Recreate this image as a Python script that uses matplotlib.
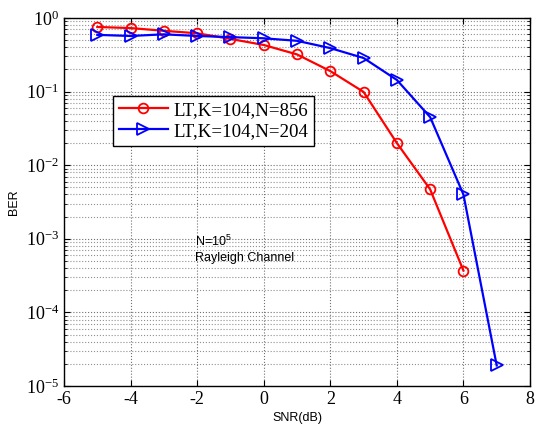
import math
import matplotlib
matplotlib.use("Agg")
import matplotlib.pyplot as plt
from matplotlib.ticker import LogLocator, NullFormatter, FuncFormatter

snr_red = [-5, -4, -3, -2, -1, 0, 1, 2, 3, 4, 5, 6]
ber_red = [0.755, 0.73, 0.67, 0.62, 0.52, 0.43, 0.32, 0.19, 0.099, 0.02, 0.0047, 0.00037]
snr_blue = [-5, -4, -3, -2, -1, 0, 1, 2, 3, 4, 5, 6, 7]
ber_blue = [0.59, 0.57, 0.6, 0.57, 0.55, 0.53, 0.49, 0.39, 0.286, 0.144, 0.045, 0.0040, 1.9e-5]
label_red = "LT,K=104,N=856"
label_blue = "LT,K=104,N=204"

fig = plt.figure(figsize=(5.36, 4.30), dpi=100)
ax = fig.add_axes([64/536, 1-386/430, (530-64)/536, (386-18)/430])

ax.semilogy(snr_red, ber_red, color='#ff0000', marker='o', markersize=7, markerfacecolor='none',
            markeredgewidth=1.3, linewidth=1.6, label=label_red)
ax.semilogy(snr_blue, ber_blue, color='#0000ff', marker='>', markersize=8, markerfacecolor='none',
            markeredgewidth=1.3, linewidth=1.6, label=label_blue)

ax.set_xlim(-6, 8)
ax.set_ylim(1e-5, 1)
ax.set_xticks(range(-6, 9, 2))
ax.xaxis.set_major_formatter(FuncFormatter(lambda v, p: f"{int(v)}"))
ax.yaxis.set_major_locator(LogLocator(base=10, numticks=10))
ax.yaxis.set_minor_locator(LogLocator(base=10, subs=range(2, 10), numticks=20))
ax.yaxis.set_minor_formatter(NullFormatter())
ax.yaxis.set_major_formatter(FuncFormatter(lambda v, p: r"$\mathregular{10^{%d}}$" % round(math.log10(v))))

serif = 'Liberation Serif'
ax.tick_params(axis='both', which='both', direction='in', top=True, right=True, labelsize=13)
ax.tick_params(which='major', length=4)
ax.tick_params(which='minor', length=2)
plt.setp(ax.get_xticklabels(), family=serif)
plt.setp(ax.get_yticklabels(), family=serif)

ax.grid(True, which='major', color='#707070', linestyle=':', linewidth=0.8)
ax.grid(True, which='minor', color='#909090', linestyle=':', linewidth=0.8)
for s in ax.spines.values():
    s.set_linewidth(1.0)

ax.set_xlabel('SNR(dB)', family='Liberation Sans', fontsize=9, labelpad=3)
ax.set_ylabel('BER', family='Liberation Sans', fontsize=9, labelpad=4)

ax.text(-2.07, 10**-3.03, r'N=10$^{\mathregular{5}}$', family='Liberation Sans', fontsize=9, va='center')
ax.text(-2.07, 10**-3.26, 'Rayleigh Channel', family='Liberation Sans', fontsize=9, va='center')

leg = ax.legend(loc='upper left', bbox_to_anchor=((113-64)/466, 1-(96-18)/368),
                prop={'family': serif, 'size': 13.6}, frameon=True, fancybox=False,
                edgecolor='black', framealpha=1, borderpad=0.3, labelspacing=0.2,
                handlelength=2.6, handletextpad=0.3, borderaxespad=0)
leg.get_frame().set_linewidth(1.0)

fig.savefig('out.png', dpi=100)
